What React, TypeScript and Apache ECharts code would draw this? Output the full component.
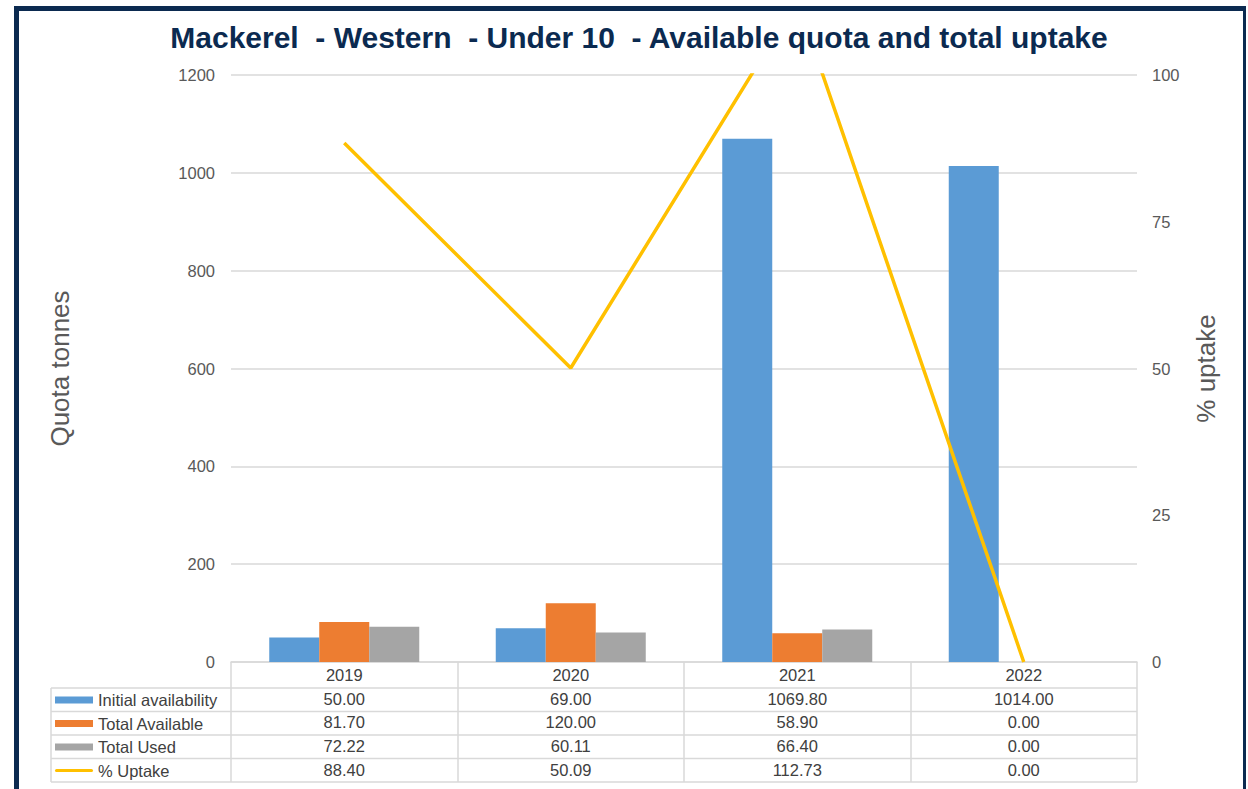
import React, { useEffect, useRef } from "react";
import * as echarts from "echarts";

const years = ["2019", "2020", "2021", "2022"];
const initialAvailability = [50.0, 69.0, 1069.8, 1014.0];
const totalAvailable = [81.7, 120.0, 58.9, 0.0];
const totalUsed = [72.22, 60.11, 66.4, 0.0];
const uptakePct = [88.4, 50.09, 112.73, 0.0];
const leftTicks = { min: 0, max: 1200, interval: 200 };
const rightTicks = { min: 0, max: 100, interval: 25 };

const FONT = "'Liberation Sans', Arial, sans-serif";
const GRID_L = 231;
const GRID_R = 1137;
const GRID_T = 75;
const GRID_B = 662;
const ROW_Y = [688, 711.5, 735, 758.5, 782];
const TABLE_L = 51;
const LINE_C = "#d9d9d9";
const NAVY = "#0b2a50";
const TXT = "#404040";

export default function App() {
  const ref = useRef<HTMLDivElement>(null);
  useEffect(() => {
    const chart = echarts.init(ref.current!, null, { renderer: "svg" });
    const fmt = (v: number) => v.toFixed(2);
    const labels = years.map((y, i) =>
      [y, fmt(initialAvailability[i]), fmt(totalAvailable[i]), fmt(totalUsed[i]), fmt(uptakePct[i])].join("\n")
    );
    const graphics: any[] = [];
    ROW_Y.forEach((y) =>
      graphics.push({
        type: "line",
        shape: { x1: TABLE_L, y1: y, x2: GRID_R, y2: y },
        style: { stroke: LINE_C, lineWidth: 1.5 },
        silent: true,
      })
    );
    graphics.push({
      type: "line",
      shape: { x1: TABLE_L, y1: ROW_Y[0], x2: TABLE_L, y2: ROW_Y[4] },
      style: { stroke: LINE_C, lineWidth: 1.5 },
      silent: true,
    });
    // frame
    graphics.push(
      { type: "line", shape: { x1: 16.5, y1: 8.5, x2: 16.5, y2: 800 }, style: { stroke: NAVY, lineWidth: 5 }, silent: true },
      { type: "line", shape: { x1: 14, y1: 8.5, x2: 1246, y2: 8.5 }, style: { stroke: NAVY, lineWidth: 5 }, silent: true },
      { type: "line", shape: { x1: 1244.5, y1: 8, x2: 1244.5, y2: 800 }, style: { stroke: NAVY, lineWidth: 3 }, silent: true }
    );

    const lineIcon = "path://M0,0L0,0M1.5,2A1.5,1.5,0,0,0,1.5,5L36.5,5A1.5,1.5,0,0,0,36.5,2ZM38,7L38,7";

    chart.setOption({
      animation: false,
      backgroundColor: "#ffffff",
      textStyle: { fontFamily: FONT },
      title: {
        text: "Mackerel  - Western  - Under 10  - Available quota and total uptake",
        left: 634,
        textAlign: "center",
        top: 17,
        textStyle: { fontFamily: FONT, fontSize: 30, fontWeight: "bold", color: NAVY },
      },
      legend: {
        orient: "vertical",
        left: 55,
        top: 691,
        padding: 0,
        itemGap: 5.5,
        itemWidth: 38,
        itemHeight: 7,
        selectedMode: false,
        textStyle: { fontFamily: FONT, fontSize: 16.5, lineHeight: 18, color: TXT },
        data: [
          { name: "Initial availability", icon: "rect" },
          { name: "Total Available", icon: "rect" },
          { name: "Total Used", icon: "rect" },
          { name: "% Uptake", icon: lineIcon },
        ],
      },
      grid: { left: GRID_L, right: 1248 - GRID_R, top: GRID_T, bottom: 789 - GRID_B },
      xAxis: {
        type: "category",
        data: years,
        boundaryGap: true,
        axisLine: { show: true, lineStyle: { color: LINE_C, width: 1.5 } },
        axisTick: { show: true, interval: 0, length: ROW_Y[4] - GRID_B, lineStyle: { color: LINE_C, width: 1.5 } },
        axisLabel: {
          interval: 0,
          margin: 1,
          fontFamily: FONT,
          fontSize: 16.5,
          lineHeight: 23.75,
          color: TXT,
          formatter: (_v: string, i: number) => labels[i],
        },
      },
      yAxis: [
        {
          type: "value",
          min: leftTicks.min,
          max: leftTicks.max,
          interval: leftTicks.interval,
          name: "Quota tonnes",
          nameLocation: "middle",
          nameGap: 158,
          nameTextStyle: { fontFamily: FONT, fontSize: 26, color: "#595959" },
          axisLine: { show: false },
          axisTick: { show: false },
          axisLabel: { margin: 16, fontFamily: FONT, fontSize: 16.5, color: "#595959", formatter: (v: number) => String(v) },
          splitLine: { lineStyle: { color: LINE_C, width: 1.5 } },
        },
        {
          type: "value",
          min: rightTicks.min,
          max: rightTicks.max,
          interval: rightTicks.interval,
          name: "% uptake",
          nameLocation: "middle",
          nameGap: 56,
          nameTextStyle: { fontFamily: FONT, fontSize: 26, color: "#595959" },
          axisLine: { show: false },
          axisTick: { show: false },
          axisLabel: { margin: 15, fontFamily: FONT, fontSize: 16.5, color: "#595959" },
          splitLine: { show: false },
        },
      ],
      series: [
        {
          name: "Initial availability",
          type: "bar",
          data: initialAvailability,
          barWidth: 50,
          barGap: "0%",
          itemStyle: { color: "#5b9bd5" },
        },
        {
          name: "Total Available",
          type: "bar",
          data: totalAvailable,
          barWidth: 50,
          barGap: "0%",
          itemStyle: { color: "#ed7d31" },
        },
        {
          name: "Total Used",
          type: "bar",
          data: totalUsed,
          barWidth: 50,
          barGap: "0%",
          itemStyle: { color: "#a5a5a5" },
        },
        {
          name: "% Uptake",
          type: "line",
          yAxisIndex: 1,
          data: uptakePct,
          symbol: "none",
          clip: true,
          lineStyle: { color: "#ffc000", width: 3.5 },
          itemStyle: { color: "#ffc000" },
        },
      ],
      graphic: graphics,
    });
    return () => chart.dispose();
  }, []);
  return (
    <div
      ref={ref}
      style={{ position: "fixed", left: 0, top: 0, width: 1248, height: 789, background: "#fff" }}
    />
  );
}
